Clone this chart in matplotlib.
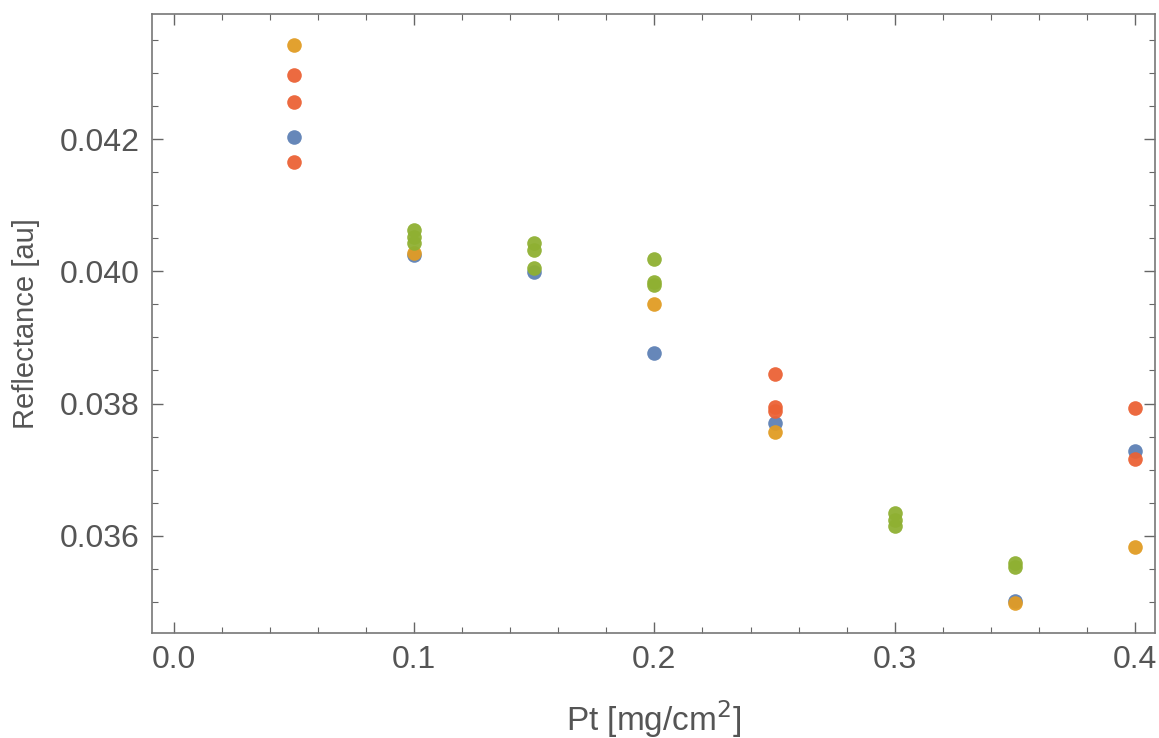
import matplotlib.pyplot as plt
from matplotlib.ticker import MultipleLocator

plt.rcParams['font.family'] = ['Liberation Sans', 'DejaVu Sans']

# Mathematica default palette
colors = ["#5E81B5", "#E19C24", "#8FB032", "#EB6235"]

# series values (Pt loading, reflectance)
blue_x = [0.05, 0.10, 0.15, 0.20, 0.25, 0.35, 0.40]
blue_y = [0.04203, 0.040246, 0.03999, 0.038765, 0.037707, 0.03502, 0.037283]

orange_x = [0.05, 0.10, 0.20, 0.25, 0.35, 0.40]
orange_y = [0.04342, 0.040277, 0.039506, 0.03757, 0.034986, 0.035832]

green_x = [0.10, 0.10, 0.10, 0.15, 0.15, 0.15, 0.20, 0.20, 0.20, 0.30, 0.30, 0.30, 0.35, 0.35]
green_y = [0.040624, 0.040519, 0.040428, 0.040428, 0.040322, 0.04005,
           0.040186, 0.039838, 0.039793, 0.036346, 0.03624, 0.03615, 0.03559, 0.03553]

red_x = [0.05, 0.05, 0.05, 0.25, 0.25, 0.25, 0.40, 0.40]
red_y = [0.04297, 0.04256, 0.04165, 0.038447, 0.037949, 0.037888, 0.037933, 0.037163]

fig = plt.figure(figsize=(11.59, 7.38), dpi=100)
ax = fig.add_axes([0.1311, 0.1423, 0.8654, 0.8387])

for xs, ys, c in [(blue_x, blue_y, colors[0]), (orange_x, orange_y, colors[1]),
                  (green_x, green_y, colors[2]), (red_x, red_y, colors[3])]:
    ax.plot(xs, ys, 'o', color=c, ms=10.5, mec='none', alpha=0.95)

ax.set_xlim(-0.0091, 0.4083)
ax.set_ylim(0.03453, 0.04389)

ax.xaxis.set_major_locator(MultipleLocator(0.1))
ax.xaxis.set_minor_locator(MultipleLocator(0.02))
ax.yaxis.set_major_locator(MultipleLocator(0.002))
ax.yaxis.set_minor_locator(MultipleLocator(0.0005))
ax.xaxis.set_major_formatter(plt.FuncFormatter(lambda v, p: f"{v:.1f}"))
ax.yaxis.set_major_formatter(plt.FuncFormatter(lambda v, p: f"{v:.3f}"))

ax.tick_params(which='both', top=True, right=True)
ax.tick_params(which='major', direction='in', length=8, width=1, color='#666666',
               labelsize=23, labelcolor='#555555', pad=9)
ax.tick_params(which='minor', direction='in', length=4, width=0.8, color='#666666')
for s in ax.spines.values():
    s.set_color('#777777')
    s.set_linewidth(1.2)

ax.set_xlabel("Pt [mg/cm$^{2}$]", fontsize=24, color='#555555', labelpad=16)
ax.set_ylabel("Reflectance [au]", fontsize=21, color='#555555', labelpad=14)

fig.savefig("out.png", dpi=100)
